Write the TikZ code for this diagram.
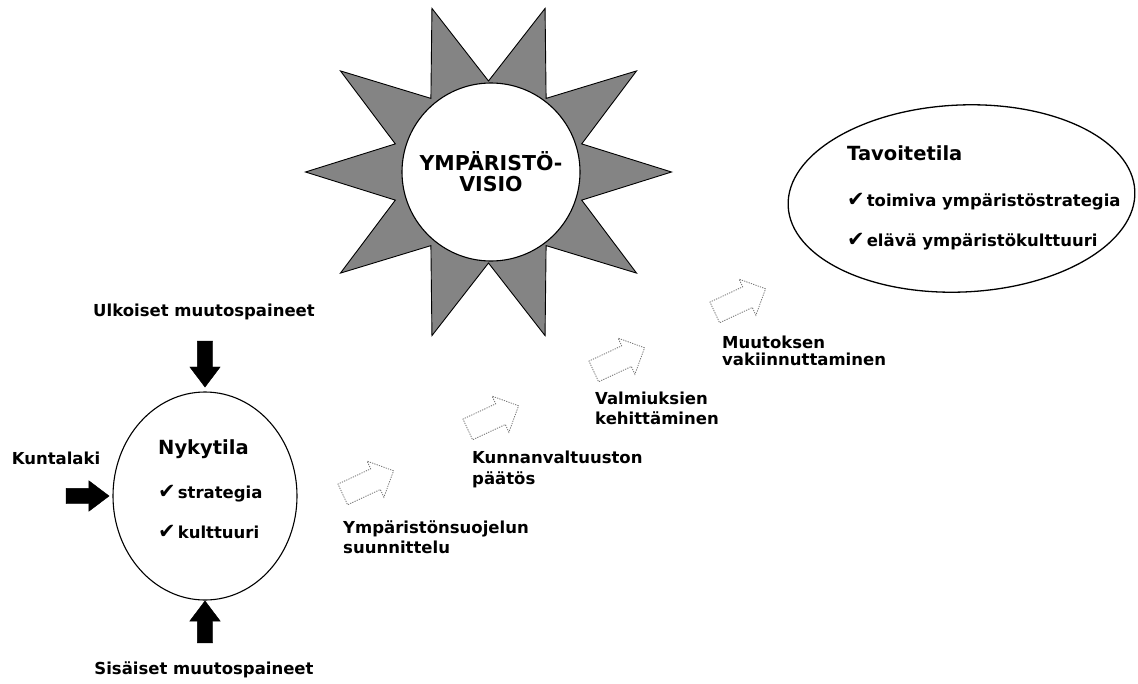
\documentclass[tikz,border=0pt]{standalone}
\usepackage{fontspec}
\setmainfont{DejaVu Sans}
\usetikzlibrary{shapes.geometric,shapes.arrows,calc}
\definecolor{starfill}{RGB}{132,132,132}
\definecolor{dotline}{RGB}{110,110,110}
\begin{document}
\begin{tikzpicture}[x=1pt,y=-1pt,
  lbl/.style={font=\bfseries\fontsize{16.5}{20}\selectfont, inner sep=0pt, align=left, anchor=north west},
  ttl/.style={font=\bfseries\fontsize{19.5}{23}\selectfont, inner sep=0pt, anchor=base west},
  itm/.style={font=\bfseries\fontsize{16.5}{20}\selectfont, inner sep=0pt, anchor=base west},
  blk/.style={single arrow, draw=black, fill=black, inner sep=0pt, inner ysep=7.5pt,
    single arrow head extend=7.5pt, single arrow tip angle=74, minimum height=#1},
  darr/.style={single arrow, draw=dotline, line width=0.8pt, dash pattern=on 1.2pt off 1.2pt,
    inner sep=0pt, inner ysep=11pt, single arrow head extend=8.5pt, single arrow tip angle=90,
    minimum height=56pt, rotate=25},
  ring/.style={draw=black, line width=1.1pt, inner sep=0pt}
]
\newcommand{\chk}{{\fontsize{21}{21}\selectfont ✔}\hspace{2pt}}
\fill[white] (0,0) rectangle (1138,683);
\useasboundingbox (0,0) rectangle (1138,683);

% star
\draw[fill=starfill, line width=0.9pt, line join=miter]
  ({488.5+183},172)
  \foreach \k in {0,...,9} {
    -- ({488.5+98*cos(36*\k+18)},{172+91*sin(36*\k+18)})
    -- ({488.5+183*cos(36*\k+36)},{172+172*sin(36*\k+36)})
  } -- cycle;
\node[circle, ring, fill=white, minimum size=178pt, align=center,
  font=\bfseries\fontsize{20.5}{21}\selectfont] (visio) at (491,172) {YMPÄRISTÖ-\\VISIO};

% current state
\node[ellipse, ring, minimum width=184pt, minimum height=208pt] (nyk) at (205,496) {};
\node[ttl] (nyt) at (158,454) {Nykytila};
\node[itm] (nyk1) at (158,498) {\chk strategia};
\node[itm] (nyk2) at (158,538) {\chk kulttuuri};

\node[lbl, anchor=center] (ulk) at (204,312) {Ulkoiset muutospaineet};
\node[lbl, anchor=center] (sis) at (204,670) {Sisäiset muutospaineet};
\node[lbl, anchor=center] (kunta) at (56,458) {Kuntalaki};

\node[blk=46pt, rotate=-90, anchor=tip] (a1) at ([yshift=4pt]nyk.north) {};
\node[blk=43pt, anchor=tip] (a2) at ([xshift=-3pt]nyk.west) {};
\node[blk=42pt, rotate=90, anchor=tip] (a3) at (nyk.south) {};

% target state
\node[ellipse, draw=black, line width=1.3pt, minimum width=347pt, minimum height=187pt, rotate=2.5] (tav) at (961.5,198.5) {};
\node[ttl] (tavt) at (847,160) {Tavoitetila};
\node[itm] (tav1) at (847,206) {\chk toimiva ympäristöstrategia};
\node[itm] (tav2) at (847,246) {\chk elävä ympäristökulttuuri};

% steps
\node[darr] (d1) at (363,485) {};
\node[darr] (d2) at (488,420) {};
\node[darr] (d3) at (614,362) {};
\node[darr] (d4) at (735,303) {};

\node[lbl] (s1) at (343,520.5) {Ympäristönsuojelun\\suunnittelu};
\node[lbl, font=\bfseries\fontsize{16.5}{21.5}\selectfont] (s2) at (472,450.5) {Kunnanvaltuuston\\päätös};
\node[lbl] (s3) at (595,391.5) {Valmiuksien\\kehittäminen};
\node[lbl, font=\bfseries\fontsize{16.5}{17}\selectfont] (s4) at (722,335.5) {Muutoksen\\vakiinnuttaminen};
\end{tikzpicture}
\end{document}
